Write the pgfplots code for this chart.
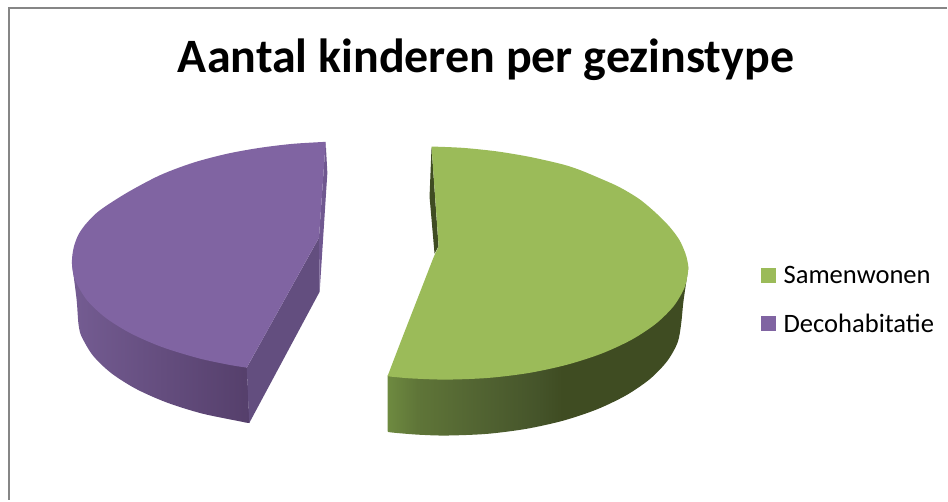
\documentclass[border=0pt]{standalone}
\usepackage{pgfplots}
\pgfplotsset{compat=1.18}
\usepackage{fontspec}
\setmainfont{Carlito}

\definecolor{greentop}{HTML}{9BBB59}
\definecolor{purpletop}{HTML}{8064A2}
\definecolor{greendark}{HTML}{3F4C22}
\definecolor{purpleinner}{HTML}{634E7F}
\definecolor{purplesliver}{HTML}{705890}
\definecolor{frame}{HTML}{868686}

% wall gradients, the path's box runs from 25bp to 75bp
\definecolor{gw1}{HTML}{6E8A40}
\definecolor{gw2}{HTML}{5F7538}
\definecolor{gw3}{HTML}{526432}
\definecolor{gw4}{HTML}{45542A}
\pgfdeclarehorizontalshading{greenwall}{100bp}{
  color(0bp)=(gw1);
  color(25bp)=(gw1);
  color(30bp)=(gw2);
  color(40bp)=(gw3);
  color(50bp)=(gw4);
  color(54bp)=(greendark);
  color(100bp)=(greendark)}
\definecolor{pw1}{HTML}{745C92}
\definecolor{pw2}{HTML}{553F6B}
\pgfdeclarehorizontalshading{purplewall}{100bp}{
  color(0bp)=(pw1);
  color(25bp)=(pw1);
  color(75bp)=(pw2);
  color(100bp)=(pw2)}

\begin{document}
\begin{tikzpicture}
\begin{axis}[
  scale only axis,
  width=948pt, height=501pt,
  xmin=0, xmax=948, ymin=0, ymax=501,
  y dir=reverse,
  hide axis,
  clip=false,
  legend style={at={(axis cs:762,264.5)}, anchor=north west, draw=none, fill=none,
    font=\fontsize{26.6}{26.6}\selectfont, row sep=25pt,
    inner sep=0pt, outer sep=0pt},
  legend cell align=left,
  legend image code/.code={\fill[draw=none,#1] (0pt,-7.5pt) rectangle (15pt,7.5pt);
    \path (0pt,0pt) (20pt,0pt);},
]

% keeps the page at the full size of the axis
\addplot[draw=none, forget plot] coordinates {(0,0) (948,501)};

% frame
\addplot[draw=frame, line width=2pt, forget plot] coordinates {(948,8) (9,8) (9,501)};

% green slice: outer wall
\addplot[shading=greenwall, draw=none, smooth, forget plot] coordinates {
  (388,376) (388,400) (388,420) (388,429) (388.1,431.5) (388.4,432.4) (391,432.8)
  (400,433.7) (420,435.2) (447,436) (487.8,434.3) (527.4,429.2) (564.5,420.9)
  (598,409.6) (627,395.6) (650.5,379.5) (667.8,361.6) (678.4,342.6) (682,323)
  (684,303) (687.3,280) (689,268)};
% green slice: inner wall sliver
\addplot[fill=greendark, draw=none, forget plot] coordinates {
  (432,147) (430,197) (435,254) (439,246.5)};
% green slice: top
\addplot[fill=greentop, draw=none, smooth, forget plot] coordinates {
  (432,146.7) (463,148) (497,151.5) (530,157) (563,164.5) (580,170) (600,178.3)
  (620,187.3) (640,199.3) (656.7,213.3) (670,226.7) (680,240) (686,253.3) (688.3,262) (689,270)
  (685.4,287.5) (674.5,306.3) (656.6,324) (632.4,340) (602.6,353.8) (568,365)
  (529.8,373.3) (489,378.3) (447,380) (413,378.9) (398,377.7) (391,377) (388.5,376.6) (388,376.5)
  (389,373.9) (391.3,367.8) (402,339.9) (421,291.1) (431.7,263.5) (434.5,256.5)
  (436,253) (438,249) (439,246.5) (438.3,236) (435.8,200) (433.6,170) (432.4,152)};

% purple slice: outer wall
\addplot[shading=purplewall, draw=none, smooth, forget plot] coordinates {
  (247,368) (248.5,395) (249.2,415) (249.4,421) (249.5,423.3) (246,423) (241.2,422)
  (202,413.9) (166.6,402.8) (136,389.2) (111.2,373.4) (93,355.9) (81.8,337.2) (79,327.6)
  (78,318) (76.7,300) (73.3,273) (72,263)};
% purple slice: cut wall
\addplot[fill=purpleinner, draw=none, forget plot] coordinates {
  (319.3,238) (320,292) (249.5,423.5) (247,368)};
% purple slice: inner sliver
\addplot[fill=purplesliver, draw=none, forget plot] coordinates {
  (326,142) (327.7,173) (320,292) (319.3,238)};
% purple slice: top
\addplot[fill=purpletop, draw=none, smooth, forget plot] coordinates {
  (326,142) (293,144) (260,148) (227,154) (193,163) (160,175.5) (127,193)
  (100,210.5) (87,223) (79,234) (74.5,245) (72.5,255) (72,263) (73,272.6) (75.9,282.2) (87.3,300.8)
  (106,318.3) (131.4,334) (162.7,347.6) (199,358.7) (226.7,364.7) (240,367) (245,367.7) (247,368)
  (248.4,365.4) (252,358.9) (268.7,329) (297.6,277) (314,247.5) (319.3,238)};

% legend entries
\addlegendimage{fill=greentop}
\addlegendentry{Samenwonen}
\addlegendimage{fill=purpletop}
\addlegendentry{Decohabitatie}

\node[font=\fontsize{48}{48}\selectfont\bfseries] at (axis cs:486.5,60) {Aantal kinderen per gezinstype};
\end{axis}
\end{tikzpicture}
\end{document}
